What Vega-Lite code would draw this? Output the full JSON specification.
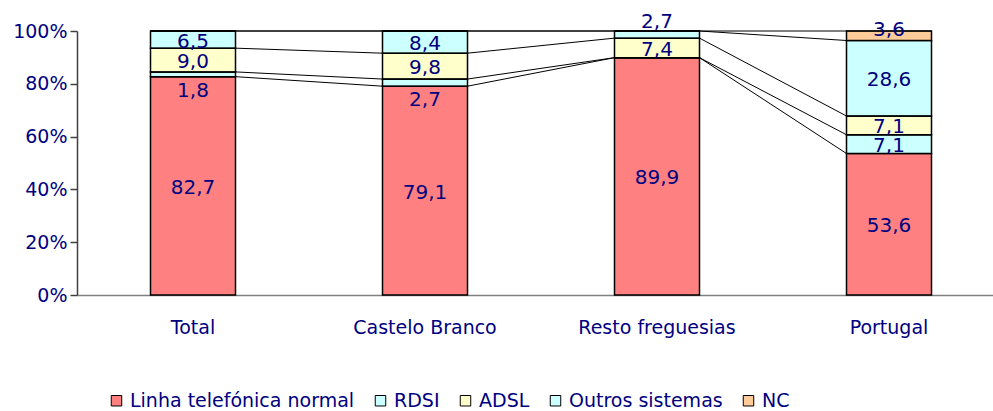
{
  "$schema": "https://vega.github.io/schema/vega-lite/v6.json",
  "autosize": "none",
  "width": 928,
  "height": 264,
  "padding": {"left": 77, "top": 31, "right": 0, "bottom": 116},
  "background": "white",
  "config": {
    "view": {"stroke": null},
    "font": "DejaVu Sans",
    "axis": {"grid": false}
  },
  "data": {
    "values": [
      {"cat": "Total", "serie": "Linha telefónica normal", "v": 82.7},
      {"cat": "Total", "serie": "RDSI", "v": 1.8},
      {"cat": "Total", "serie": "ADSL", "v": 9.0},
      {"cat": "Total", "serie": "Outros sistemas", "v": 6.5},
      {"cat": "Total", "serie": "NC", "v": 0},
      {"cat": "Castelo Branco", "serie": "Linha telefónica normal", "v": 79.1},
      {"cat": "Castelo Branco", "serie": "RDSI", "v": 2.7},
      {"cat": "Castelo Branco", "serie": "ADSL", "v": 9.8},
      {"cat": "Castelo Branco", "serie": "Outros sistemas", "v": 8.4},
      {"cat": "Castelo Branco", "serie": "NC", "v": 0},
      {"cat": "Resto freguesias", "serie": "Linha telefónica normal", "v": 89.9},
      {"cat": "Resto freguesias", "serie": "RDSI", "v": 0},
      {"cat": "Resto freguesias", "serie": "ADSL", "v": 7.4},
      {"cat": "Resto freguesias", "serie": "Outros sistemas", "v": 2.7},
      {"cat": "Resto freguesias", "serie": "NC", "v": 0},
      {"cat": "Portugal", "serie": "Linha telefónica normal", "v": 53.6},
      {"cat": "Portugal", "serie": "RDSI", "v": 7.1},
      {"cat": "Portugal", "serie": "ADSL", "v": 7.1},
      {"cat": "Portugal", "serie": "Outros sistemas", "v": 28.6},
      {"cat": "Portugal", "serie": "NC", "v": 3.6}
    ]
  },
  "transform": [
    {"calculate": "indexof(['Linha telefónica normal','RDSI','ADSL','Outros sistemas','NC'], datum.serie)", "as": "k"},
    {"calculate": "indexof(['Total','Castelo Branco','Resto freguesias','Portugal'], datum.cat)", "as": "ci"},
    {"stack": "v", "groupby": ["cat"], "sort": [{"field": "k", "order": "ascending"}], "as": ["y0", "y1"]},
    {"calculate": "(datum.y0 + datum.y1) / 2", "as": "mid"},
    {"calculate": "replace(format(datum.v, '.1f'), '.', ',')", "as": "lbl"}
  ],
  "encoding": {
    "x": {
      "field": "cat",
      "type": "nominal",
      "sort": ["Total", "Castelo Branco", "Resto freguesias", "Portugal"],
      "scale": {"paddingInner": 0.6336, "paddingOuter": 0.3168},
      "axis": {
        "title": null,
        "labelAngle": 0,
        "ticks": false,
        "domainColor": "#808080",
        "domainWidth": 1.5,
        "labelColor": "#000080",
        "labelFontSize": 19,
        "labelPadding": 23
      }
    }
  },
  "layer": [
    {
      "mark": {"type": "bar", "stroke": "#000000", "strokeWidth": 1.5, "width": 85},
      "encoding": {
        "y": {
          "field": "y0",
          "type": "quantitative",
          "scale": {"domain": [0, 100]},
          "axis": {
            "title": null,
            "values": [0, 20, 40, 60, 80, 100],
            "labelExpr": "datum.value + '%'",
            "labelColor": "#000080",
            "labelFontSize": 19,
            "domainColor": "#404040",
            "domainWidth": 1.5,
            "tickColor": "#404040",
            "tickWidth": 1.5,
            "tickSize": 7,
            "labelPadding": 3
          }
        },
        "y2": {"field": "y1"},
        "color": {
          "field": "serie",
          "type": "nominal",
          "scale": {
            "domain": ["Linha telefónica normal", "RDSI", "ADSL", "Outros sistemas", "NC"],
            "range": ["#FF8080", "#CCFFFF", "#FFFFCC", "#CCFFFF", "#FFCC99"]
          },
          "legend": {
            "title": null,
            "orient": "none",
            "direction": "horizontal",
            "columns": 5,
            "legendX": 30,
            "legendY": 360,
            "symbolType": "square",
            "symbolSize": 110,
            "symbolStrokeColor": "#000000",
            "symbolStrokeWidth": 1,
            "labelColor": "#000080",
            "labelFontSize": 19,
            "labelLimit": 400,
            "columnPadding": 16,
            "symbolOffset": 0
          }
        }
      }
    },
    {
      "transform": [
        {"calculate": "datum.y1", "as": "L"},
        {"calculate": "datum.y1", "as": "R"},
        {"fold": ["L", "R"], "as": ["side", "val"]},
        {"calculate": "datum.ci * 2 + (datum.side == 'R' ? 1 : 0)", "as": "o"}
      ],
      "mark": {"type": "line", "color": "#000000", "strokeWidth": 1},
      "encoding": {
        "x": {"field": "cat", "type": "nominal", "sort": ["Total", "Castelo Branco", "Resto freguesias", "Portugal"]},
        "xOffset": {"field": "side", "type": "nominal", "scale": {"type": "point", "domain": ["L", "R"], "range": [0, 85], "padding": 0}},
        "y": {"field": "val", "type": "quantitative"},
        "detail": {"field": "serie"},
        "order": {"field": "o", "type": "quantitative"}
      }
    },
    {
      "transform": [
        {"filter": "datum.v > 0 && !(datum.serie == 'RDSI' && (datum.cat == 'Total' || datum.cat == 'Castelo Branco')) && !(datum.cat == 'Resto freguesias' && datum.serie == 'Outros sistemas') && !(datum.serie == 'NC')"}
      ],
      "mark": {"type": "text", "color": "#000080", "fontSize": 20, "baseline": "middle", "dy": 2},
      "encoding": {
        "y": {"field": "mid", "type": "quantitative"},
        "text": {"field": "lbl"}
      }
    },
    {
      "transform": [
        {"filter": "datum.serie == 'RDSI' && (datum.cat == 'Total' || datum.cat == 'Castelo Branco')"}
      ],
      "mark": {"type": "text", "color": "#000080", "fontSize": 20, "baseline": "middle", "dy": 17},
      "encoding": {
        "y": {"field": "mid", "type": "quantitative"},
        "text": {"field": "lbl"}
      }
    },
    {
      "transform": [
        {"filter": "datum.cat == 'Resto freguesias' && datum.serie == 'Outros sistemas'"}
      ],
      "mark": {"type": "text", "color": "#000080", "fontSize": 20, "baseline": "middle", "dy": -13},
      "encoding": {
        "y": {"field": "mid", "type": "quantitative"},
        "text": {"field": "lbl"}
      }
    },
    {
      "transform": [
        {"filter": "datum.serie == 'NC' && datum.v > 0"}
      ],
      "mark": {"type": "text", "color": "#000080", "fontSize": 20, "baseline": "middle", "dy": -6},
      "encoding": {
        "y": {"field": "mid", "type": "quantitative"},
        "text": {"field": "lbl"}
      }
    }
  ]
}
